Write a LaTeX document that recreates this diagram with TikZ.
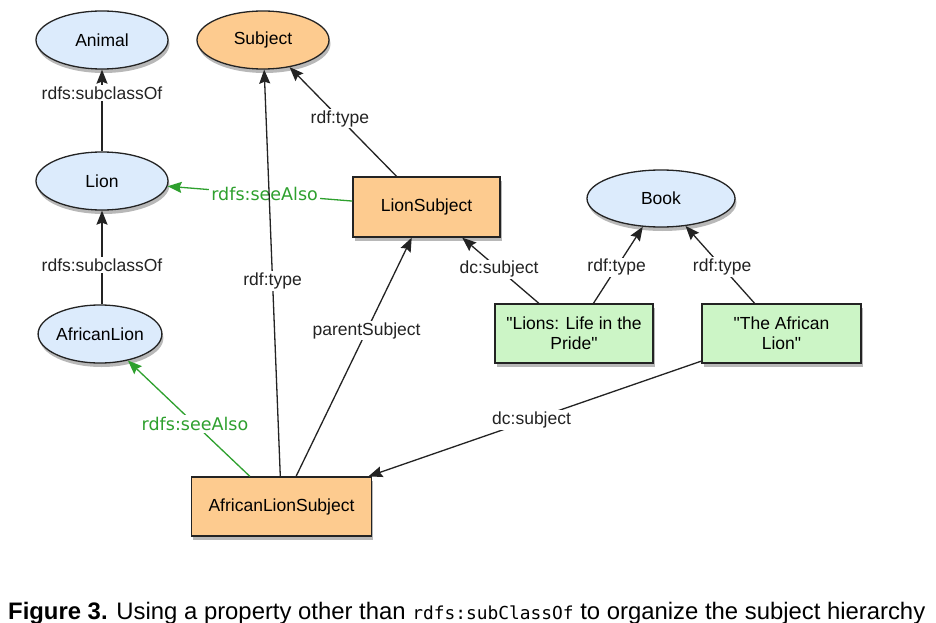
\documentclass[tikz,border=0pt]{standalone}
\usepackage{fontspec}
\setmainfont{Liberation Sans}
\setmonofont{DejaVu Sans Mono}
\newfontfamily\greenfont{DejaVu Sans}
\usetikzlibrary{shapes.geometric,arrows.meta,shadows}
\definecolor{cblue}{RGB}{220,235,252}
\definecolor{corange}{RGB}{253,203,143}
\definecolor{cgreen}{RGB}{204,245,198}
\definecolor{gline}{RGB}{46,160,46}
\definecolor{bord}{RGB}{35,35,35}
\tikzset{
  shad/.style={drop shadow={shadow xshift=1.5pt,shadow yshift=-4pt,fill=black,opacity=0.28}},
  cls/.style={ellipse,draw=bord,line width=1.3pt,fill=cblue,inner sep=0pt,minimum width=132pt,minimum height=58pt,shad,font=\fontsize{17.5}{20}\selectfont},
  orell/.style={cls,fill=corange},
  obox/.style={rectangle,draw=bord,line width=1.3pt,fill=corange,inner sep=0pt,shad,font=\fontsize{17.5}{20}\selectfont,align=center},
  gbox/.style={obox,fill=cgreen},
  tip/.tip={Stealth[length=14pt,width=11pt,inset=2pt]},
  rel/.style={draw=bord,line width=1.3pt,-tip},
  grel/.style={draw=gline,line width=1.3pt,-tip},
  lbl/.style={fill=white,inner sep=1.5pt,font=\fontsize{17.5}{20}\selectfont,text=bord},
  glbl/.style={fill=white,inner sep=2pt,font=\greenfont\fontsize{17.5}{20}\selectfont,text=gline}
}
\begin{document}
\begin{tikzpicture}[x=1pt,y=-1pt]
\useasboundingbox (0,0) rectangle (936,623);
\fill[white] (0,0) rectangle (936,623);
% nodes
\node[cls] (animal) at (102,40) {Animal};
\node[orell] (subject) at (263,40) {Subject};
\node[cls] (lion) at (102,181) {Lion};
\node[cls,minimum width=120pt] (alion) at (100,334) {AfricanLion};
\node[cls,minimum width=148pt,minimum height=57pt] (book) at (661,198.5) {Book};
\node[obox,minimum width=147pt,minimum height=60pt] (ls) at (426.5,207) {LionSubject};
\node[gbox,minimum width=158pt,minimum height=59pt] (b1) at (574,333.5) {\textquotedbl Lions: Life in the\\Pride\textquotedbl};
\node[gbox,minimum width=159pt,minimum height=59pt] (b2) at (781.5,333.5) {\textquotedbl The African\\Lion\textquotedbl};
\node[obox,minimum width=180pt,minimum height=59pt] (als) at (281.5,506.5) {AfricanLionSubject};
% edges
\draw[rel] (lion) -- node[lbl,pos=0.71] {rdfs:subclassOf} (animal);
\draw[rel] (alion.north -| lion.south) -- node[lbl,pos=0.42] {rdfs:subclassOf} (lion);
\draw[grel] (ls) -- node[glbl,pos=0.475] {rdfs:seeAlso} (lion);
\draw[rel] (ls) -- node[lbl,pos=0.53] {rdf:type} (subject);
\draw[rel] (als) -- node[lbl,pos=0.48] {rdf:type} (subject);
\draw[rel] (als) -- node[lbl,pos=0.61] {parentSubject} (ls);
\draw[grel] (als) -- node[glbl,pos=0.45] {rdfs:seeAlso} (alion);
\draw[rel] (b1) -- node[lbl,pos=0.52] {dc:subject} (ls);
\draw[rel] (b1) -- node[lbl,pos=0.47] {rdf:type} (book);
\draw[rel] (b2) -- node[lbl,pos=0.47] {rdf:type} (book);
\draw[rel] (b2) -- node[lbl,pos=0.51] {dc:subject} (als);
% caption
\node[anchor=base west,inner sep=0pt] (cap) at (8,619) {\resizebox{917pt}{!}{\fontsize{23.5}{28}\selectfont\textbf{Figure 3.} Using a property other than {\ttfamily\fontsize{17.6}{20}\selectfont rdfs:subClassOf} to organize the subject hierarchy}};
\end{tikzpicture}
\end{document}
